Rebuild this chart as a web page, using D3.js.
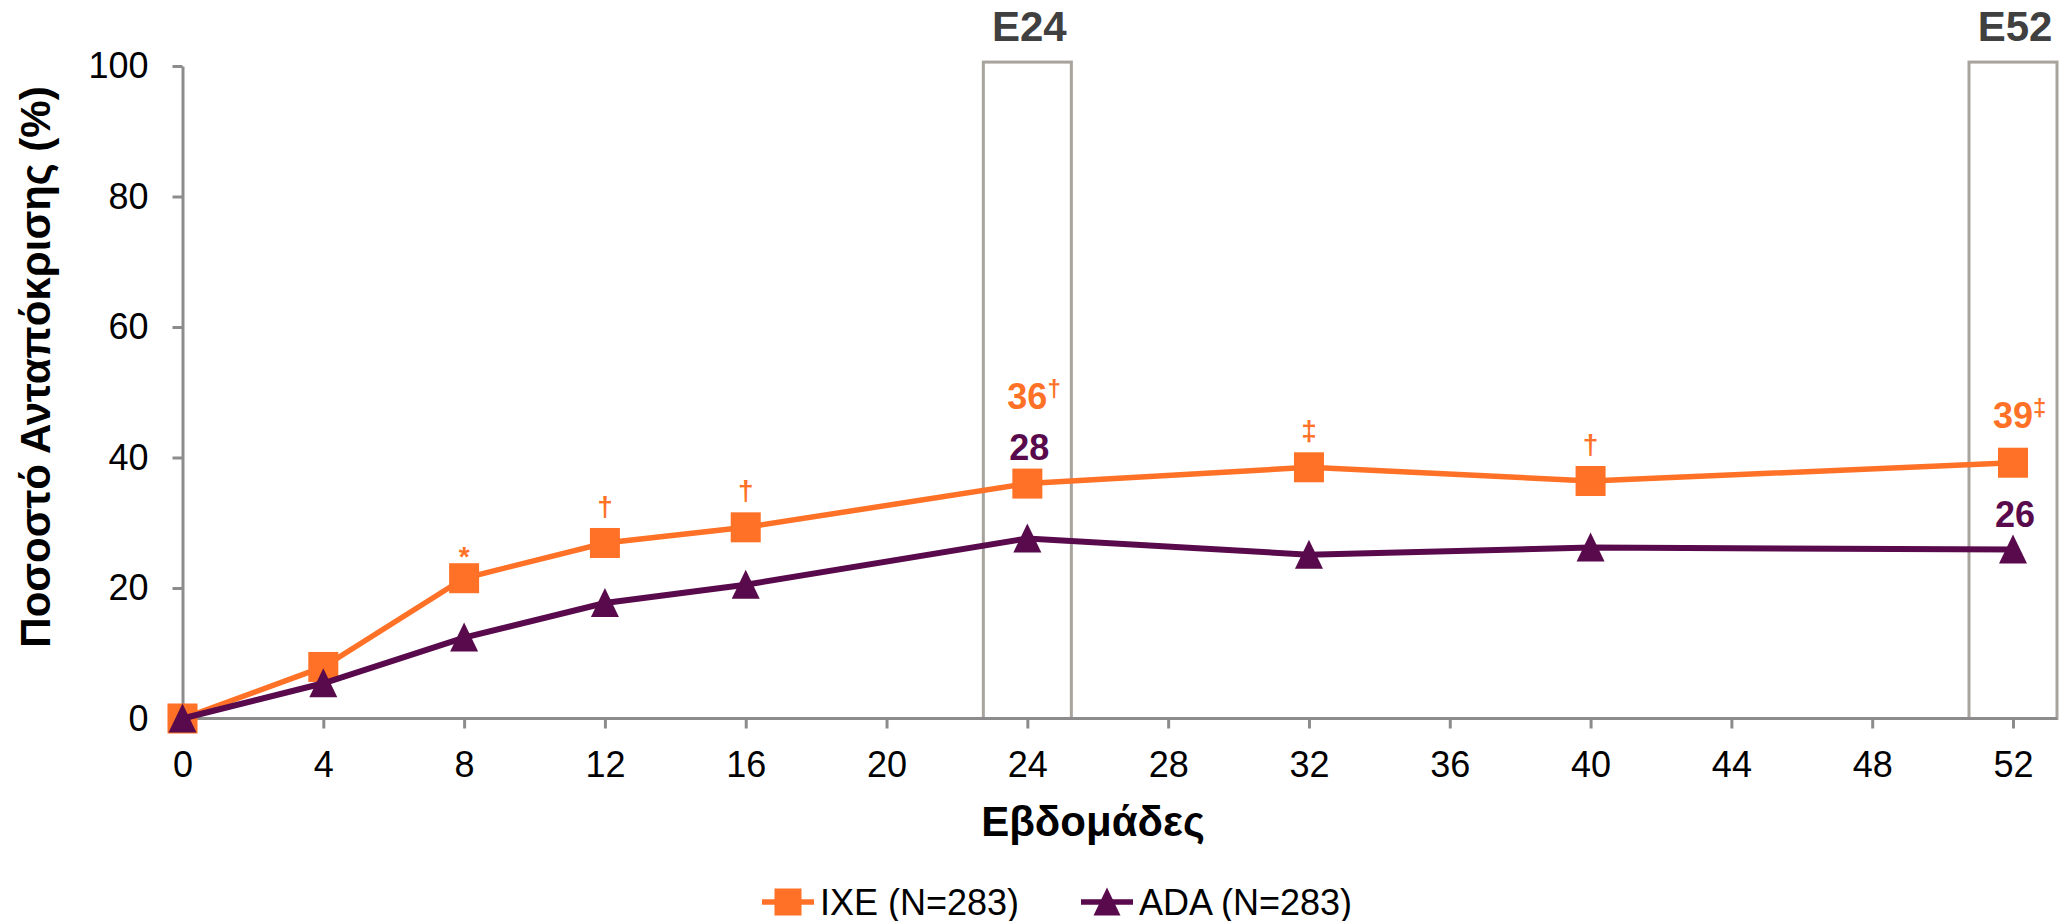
<!DOCTYPE html>
<html>
<head>
<meta charset="utf-8">
<script src="https://cdn.jsdelivr.net/npm/d3@7"></script>
<style>
  html, body { margin: 0; padding: 0; background: #ffffff; }
  svg { display: block; font-family: "Liberation Sans", Arial, sans-serif; }
</style>
</head>
<body>
<svg id="chart" width="2061" height="921"></svg>
<script>
// ---- data ----
const weeks = [0, 4, 8, 12, 16, 24, 32, 40, 52];
const ixeValues = [0, 7.9, 21.5, 26.9, 29.3, 36.0, 38.5, 36.4, 39.2];
const adaValues = [0, 5.4, 12.4, 17.7, 20.5, 27.6, 25.1, 26.2, 25.9];
const ixeMarks = ["", "", "*", "†", "†", "", "‡", "†", ""];
const xTickValues = [0, 4, 8, 12, 16, 20, 24, 28, 32, 36, 40, 44, 48, 52];
const yTickValues = [0, 20, 40, 60, 80, 100];
const windowWeeks = [24, 52];
const windowLabels = ["E24", "E52"];
const ixeValueLabels = ["36", "39"];
const ixeValueMarks = ["†", "‡"];
const adaValueLabels = ["28", "26"];
const seriesNames = ["IXE (N=283)", "ADA (N=283)"];
const yTitle = "Ποσοστό Ανταπόκρισης (%)";
const xTitle = "Εβδομάδες";

// ---- style ----
const ORANGE = "#FF7126";
const PURPLE = "#590A4C";
const AXIS = "#8c8c8c";
const BOX = "#a8a39d";

const svg = d3.select("#chart");
const x = d3.scaleLinear().domain([0, 52]).range([182.5, 2013]);
const y = d3.scaleLinear().domain([0, 100]).range([718.5, 66]);

// windows (boxes)
windowWeeks.forEach((w, i) => {
  svg.append("rect")
    .attr("x", x(w - 1.25)).attr("y", y(100.6))
    .attr("width", x(w + 1.25) - x(w - 1.25))
    .attr("height", y(0) - y(100.6))
    .attr("fill", "none").attr("stroke", BOX).attr("stroke-width", 3);
  svg.append("text")
    .attr("x", x(w) + 2).attr("y", 41)
    .attr("text-anchor", "middle")
    .attr("font-size", 42).attr("font-weight", "bold")
    .attr("fill", "#404040")
    .text(windowLabels[i]);
});

// y axis
const yAxis = d3.axisLeft(y).tickValues(yTickValues).tickSize(10).tickPadding(24).tickSizeOuter(0);
const gy = svg.append("g").attr("transform", `translate(${x(0)},0)`).call(yAxis);
gy.select(".domain").attr("stroke", AXIS).attr("stroke-width", 3);
gy.selectAll(".tick line").attr("stroke", AXIS).attr("stroke-width", 3);
gy.selectAll(".tick text").attr("font-size", 36).attr("fill", "#000")
  .attr("font-family", "Liberation Sans, Arial, sans-serif");

// x axis
const xAxis = d3.axisBottom(x).tickValues(xTickValues).tickSize(10).tickPadding(23).tickSizeOuter(0);
const gx = svg.append("g").attr("transform", `translate(0,${y(0)})`).call(xAxis);
gx.select(".domain").remove();
gx.append("line").attr("x1", x(0)).attr("x2", x(53.25)).attr("y1", 0).attr("y2", 0)
  .attr("stroke", AXIS).attr("stroke-width", 3);
gx.selectAll(".tick line").attr("stroke", AXIS).attr("stroke-width", 3);
gx.selectAll(".tick text").attr("font-size", 36).attr("fill", "#000")
  .attr("font-family", "Liberation Sans, Arial, sans-serif");

// axis titles
svg.append("text")
  .attr("transform", `translate(50,367) rotate(-90)`)
  .attr("text-anchor", "middle")
  .attr("font-size", 42).attr("font-weight", "bold").attr("fill", "#000")
  .text(yTitle);
svg.append("text")
  .attr("x", 1093).attr("y", 836)
  .attr("text-anchor", "middle")
  .attr("font-size", 42).attr("font-weight", "bold").attr("fill", "#000")
  .text(xTitle);

// markers
const SQ = 30;
function trianglePath(s) {
  const h = s / 2;
  return `M0,${-h - 1}L${h},${h}L${-h},${h}Z`;
}

const line = d3.line().x(d => x(d[0])).y(d => y(d[1]));
const ixeData = weeks.map((w, i) => [w, ixeValues[i]]);
const adaData = weeks.map((w, i) => [w, adaValues[i]]);

// IXE
svg.append("path").datum(ixeData).attr("d", line)
  .attr("fill", "none").attr("stroke", ORANGE).attr("stroke-width", 5.5);
svg.selectAll(".sq").data(ixeData).enter().append("rect")
  .attr("x", d => x(d[0]) - SQ / 2).attr("y", d => y(d[1]) - SQ / 2)
  .attr("width", SQ).attr("height", SQ).attr("fill", ORANGE);

// ADA
svg.append("path").datum(adaData).attr("d", line)
  .attr("fill", "none").attr("stroke", PURPLE).attr("stroke-width", 6);
svg.selectAll(".tri").data(adaData).enter().append("path")
  .attr("transform", d => `translate(${x(d[0])},${y(d[1])})`)
  .attr("d", trianglePath(28)).attr("fill", PURPLE);

// significance marks above IXE points
svg.selectAll(".sig").data(ixeData.map((d, i) => [d[0], d[1], ixeMarks[i]]).filter(d => d[2]))
  .enter().append("text")
  .attr("x", d => x(d[0]))
  .attr("y", d => y(d[1]) - (d[2] === "*" ? 12 : 27))
  .attr("text-anchor", "middle")
  .attr("font-size", 28).attr("font-weight", "bold").attr("fill", ORANGE)
  .text(d => d[2]);

// value labels at window weeks
const ixeOffsets = [75, 35];
const adaRefSeries = ["ixe", "ada"];
const adaOffsets = [24, 23];
windowWeeks.forEach((w, i) => {
  const idx = weeks.indexOf(w);
  const t = svg.append("text")
    .attr("x", x(w) - 20).attr("y", y(ixeValues[idx]) - ixeOffsets[i])
    .attr("font-size", 36).attr("font-weight", "bold").attr("fill", ORANGE);
  t.append("tspan").text(ixeValueLabels[i]);
  t.append("tspan").attr("font-size", 24).attr("dy", -12).text(ixeValueMarks[i]);
  const refVal = adaRefSeries[i] === "ixe" ? ixeValues[idx] : adaValues[idx];
  svg.append("text")
    .attr("x", x(w) + 2).attr("y", y(refVal) - adaOffsets[i])
    .attr("text-anchor", "middle")
    .attr("font-size", 36).attr("font-weight", "bold").attr("fill", PURPLE)
    .text(adaValueLabels[i]);
});

// legend
const legendItems = [
  { name: seriesNames[0], color: ORANGE, shape: "square", x0: 762 },
  { name: seriesNames[1], color: PURPLE, shape: "triangle", x0: 1081 }
];
const ly = 902;
legendItems.forEach(it => {
  svg.append("line").attr("x1", it.x0).attr("x2", it.x0 + 52)
    .attr("y1", ly).attr("y2", ly)
    .attr("stroke", it.color).attr("stroke-width", 5.5);
  if (it.shape === "square") {
    svg.append("rect").attr("x", it.x0 + 26 - 13.5).attr("y", ly - 13.5)
      .attr("width", 27).attr("height", 27).attr("fill", it.color);
  } else {
    svg.append("path").attr("transform", `translate(${it.x0 + 26},${ly})`)
      .attr("d", trianglePath(27)).attr("fill", it.color);
  }
  svg.append("text").attr("x", it.x0 + 58).attr("y", ly + 12.5)
    .attr("font-size", 36).attr("fill", "#000")
    .text(it.name);
});
</script>
</body>
</html>
